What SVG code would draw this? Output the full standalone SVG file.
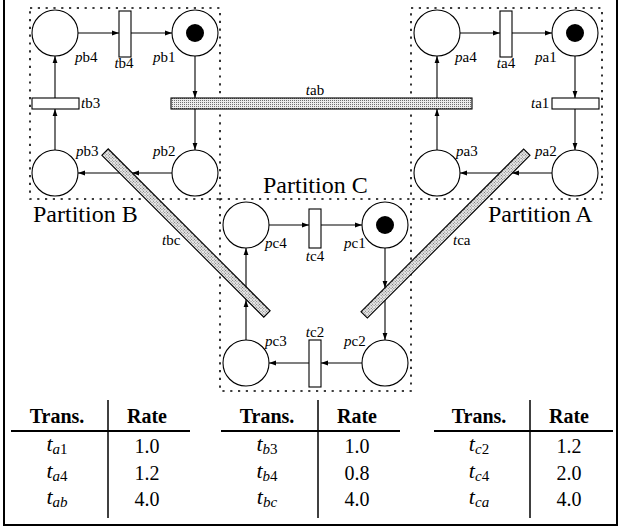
<svg xmlns="http://www.w3.org/2000/svg" width="620" height="531" viewBox="0 0 620 531" font-family="Liberation Serif, Times New Roman, serif">
<style>
.pl{fill:#fff;stroke:#000;stroke-width:1.1}
.tk{fill:#000}
.tr{fill:#fff;stroke:#000;stroke-width:1.1}
.hb{fill:url(#dots);stroke:#000;stroke-width:1.1}
.ar{fill:none;stroke:#000;stroke-width:1.1;marker-end:url(#ah)}
.part{fill:none;stroke:#000;stroke-width:1.6;stroke-dasharray:2.2 5.6}
.lb{font-size:15px}
.pt{font-size:24px}
.th{font-size:20px;font-weight:bold;text-anchor:middle}
.td{font-size:20px;text-anchor:middle}
.it{font-style:italic}
.rule{stroke:#000;stroke-width:1.8}
.vr{stroke:#000;stroke-width:1.5}
</style>
<defs>
<pattern id="dots" width="2" height="2" patternUnits="userSpaceOnUse">
<rect width="2" height="2" fill="#ececec"/>
<rect width="1" height="1" fill="#6e6e6e"/>
</pattern>
<marker id="ah" markerWidth="7" markerHeight="6" refX="7" refY="3" orient="auto" markerUnits="userSpaceOnUse">
<path d="M0,0.6 L7,3 L0,5.4 z" fill="#000"/>
</marker>
</defs>
<rect width="620" height="531" fill="#fff"/>
<g id="frame">
<line x1="4" y1="0" x2="4" y2="526" stroke="#000" stroke-width="2"/>
<line x1="617" y1="0" x2="617" y2="526" stroke="#000" stroke-width="2"/>
<line x1="3" y1="525" x2="618" y2="525" stroke="#000" stroke-width="2"/>
</g>
<g id="partitions">
<rect class="part" x="30" y="8" width="190" height="191"/>
<rect class="part" x="411" y="8" width="191" height="191"/>
<rect class="part" x="220" y="199" width="191" height="192"/>
<text class="pt" x="33" y="222">Partition B</text>
<text class="pt" x="263" y="193">Partition C</text>
<text class="pt" x="488" y="222">Partition A</text>
</g>
<g id="connectors">
<line class="ar" x1="78" y1="33" x2="119" y2="33"/>
<line class="ar" x1="131" y1="33" x2="172" y2="33"/>
<line class="ar" x1="195" y1="56" x2="195" y2="98"/>
<line class="ar" x1="195" y1="109" x2="195" y2="150"/>
<line class="ar" x1="172" y1="173" x2="132" y2="173"/>
<line class="ar" x1="132" y1="173" x2="78" y2="173"/>
<line class="ar" x1="55" y1="150" x2="55" y2="109"/>
<line class="ar" x1="55" y1="98" x2="55" y2="56"/>
<line class="ar" x1="460" y1="33" x2="500" y2="33"/>
<line class="ar" x1="512" y1="33" x2="552" y2="33"/>
<line class="ar" x1="575" y1="56" x2="575" y2="98"/>
<line class="ar" x1="575" y1="109" x2="575" y2="150"/>
<line class="ar" x1="552" y1="173" x2="512" y2="173"/>
<line class="ar" x1="512" y1="173" x2="460" y2="173"/>
<line class="ar" x1="437" y1="150" x2="437" y2="109"/>
<line class="ar" x1="437" y1="98" x2="437" y2="56"/>
<line class="ar" x1="269" y1="225" x2="309" y2="225"/>
<line class="ar" x1="321" y1="225" x2="362" y2="225"/>
<line class="ar" x1="385" y1="248" x2="385" y2="288"/>
<line class="ar" x1="385" y1="288" x2="385" y2="340"/>
<line class="ar" x1="362" y1="363" x2="321" y2="363"/>
<line class="ar" x1="309" y1="363" x2="269" y2="363"/>
<line class="ar" x1="246" y1="340" x2="246" y2="300"/>
<line class="ar" x1="246" y1="300" x2="246" y2="248"/>
</g>
<g id="pb4"><circle class="pl" cx="55" cy="33" r="23"/><text class="lb" x="75" y="62"><tspan class="it">p</tspan>b4</text></g>
<g id="pb1"><circle class="pl" cx="195" cy="33" r="23"/><circle class="tk" cx="195" cy="33" r="9"/><text class="lb" x="153" y="62"><tspan class="it">p</tspan>b1</text></g>
<g id="pb3"><circle class="pl" cx="55" cy="173" r="23"/><text class="lb" x="76" y="156"><tspan class="it">p</tspan>b3</text></g>
<g id="pb2"><circle class="pl" cx="195" cy="173" r="23"/><text class="lb" x="153" y="156"><tspan class="it">p</tspan>b2</text></g>
<g id="tb4"><rect class="tr" x="119" y="11" width="12" height="46"/><text class="lb" x="124" y="68" text-anchor="middle"><tspan class="it">t</tspan>b4</text></g>
<g id="tb3"><rect class="tr" x="32" y="98" width="47" height="11"/><text class="lb" x="81" y="108"><tspan class="it">t</tspan>b3</text></g>
<g id="pa4"><circle class="pl" cx="437" cy="33" r="23"/><text class="lb" x="455" y="62"><tspan class="it">p</tspan>a4</text></g>
<g id="pa1"><circle class="pl" cx="575" cy="33" r="23"/><circle class="tk" cx="575" cy="33" r="9"/><text class="lb" x="535" y="62"><tspan class="it">p</tspan>a1</text></g>
<g id="pa3"><circle class="pl" cx="437" cy="173" r="23"/><text class="lb" x="456" y="156"><tspan class="it">p</tspan>a3</text></g>
<g id="pa2"><circle class="pl" cx="575" cy="173" r="23"/><text class="lb" x="535" y="156"><tspan class="it">p</tspan>a2</text></g>
<g id="ta4"><rect class="tr" x="500" y="11" width="12" height="46"/><text class="lb" x="506" y="68" text-anchor="middle"><tspan class="it">t</tspan>a4</text></g>
<g id="ta1"><rect class="tr" x="552" y="98" width="47" height="11"/><text class="lb" x="531" y="108"><tspan class="it">t</tspan>a1</text></g>
<g id="pc4"><circle class="pl" cx="246" cy="225" r="23"/><text class="lb" x="265" y="248"><tspan class="it">p</tspan>c4</text></g>
<g id="pc1"><circle class="pl" cx="385" cy="225" r="23"/><circle class="tk" cx="385" cy="225" r="9"/><text class="lb" x="344" y="248"><tspan class="it">p</tspan>c1</text></g>
<g id="pc3"><circle class="pl" cx="246" cy="363" r="23"/><text class="lb" x="265" y="346"><tspan class="it">p</tspan>c3</text></g>
<g id="pc2"><circle class="pl" cx="385" cy="363" r="23"/><text class="lb" x="344" y="346"><tspan class="it">p</tspan>c2</text></g>
<g id="tc4"><rect class="tr" x="309" y="209" width="12" height="39"/><text class="lb" x="315" y="261" text-anchor="middle"><tspan class="it">t</tspan>c4</text></g>
<g id="tc2"><rect class="tr" x="309" y="340" width="12" height="47"/><text class="lb" x="315" y="337" text-anchor="middle"><tspan class="it">t</tspan>c2</text></g>
<g id="tab"><rect class="hb" x="171" y="98" width="301" height="11"/><text class="lb" x="315" y="95" text-anchor="middle"><tspan class="it">t</tspan>ab</text></g>
<g id="tbc"><rect class="hb" x="-114.5" y="-4.5" width="229" height="9" transform="translate(186,233) rotate(45)"/><text class="lb" x="162" y="245"><tspan class="it">t</tspan>bc</text></g>
<g id="tca"><rect class="hb" x="-115" y="-4.5" width="230" height="9" transform="translate(445.5,233.5) rotate(-45)"/><text class="lb" x="453" y="245"><tspan class="it">t</tspan>ca</text></g>
<g id="table-a">
<text class="th" x="57" y="423">Trans.</text>
<text class="th" x="147" y="423">Rate</text>
<line class="rule" x1="11" y1="431" x2="190" y2="431"/>
<line class="vr" x1="108" y1="400" x2="108" y2="518"/>
<text class="td" x="57" y="451"><tspan class="it" font-size="22">t</tspan><tspan class="it" font-size="15" dy="3">a</tspan><tspan font-size="15">1</tspan></text>
<text class="td" x="57" y="478"><tspan class="it" font-size="22">t</tspan><tspan class="it" font-size="15" dy="3">a</tspan><tspan font-size="15">4</tspan></text>
<text class="td" x="57" y="504"><tspan class="it" font-size="22">t</tspan><tspan class="it" font-size="15" dy="3">ab</tspan></text>
<text class="td" x="147" y="453">1.0</text>
<text class="td" x="147" y="480">1.2</text>
<text class="td" x="147" y="506">4.0</text>
</g>
<g id="table-b">
<text class="th" x="267" y="423">Trans.</text>
<text class="th" x="357" y="423">Rate</text>
<line class="rule" x1="221" y1="431" x2="400" y2="431"/>
<line class="vr" x1="318" y1="400" x2="318" y2="518"/>
<text class="td" x="267" y="451"><tspan class="it" font-size="22">t</tspan><tspan class="it" font-size="15" dy="3">b</tspan><tspan font-size="15">3</tspan></text>
<text class="td" x="267" y="478"><tspan class="it" font-size="22">t</tspan><tspan class="it" font-size="15" dy="3">b</tspan><tspan font-size="15">4</tspan></text>
<text class="td" x="267" y="504"><tspan class="it" font-size="22">t</tspan><tspan class="it" font-size="15" dy="3">bc</tspan></text>
<text class="td" x="357" y="453">1.0</text>
<text class="td" x="357" y="480">0.8</text>
<text class="td" x="357" y="506">4.0</text>
</g>
<g id="table-c">
<text class="th" x="479" y="423">Trans.</text>
<text class="th" x="569" y="423">Rate</text>
<line class="rule" x1="434" y1="431" x2="613" y2="431"/>
<line class="vr" x1="530" y1="400" x2="530" y2="518"/>
<text class="td" x="479" y="451"><tspan class="it" font-size="22">t</tspan><tspan class="it" font-size="15" dy="3">c</tspan><tspan font-size="15">2</tspan></text>
<text class="td" x="479" y="478"><tspan class="it" font-size="22">t</tspan><tspan class="it" font-size="15" dy="3">c</tspan><tspan font-size="15">4</tspan></text>
<text class="td" x="479" y="504"><tspan class="it" font-size="22">t</tspan><tspan class="it" font-size="15" dy="3">ca</tspan></text>
<text class="td" x="569" y="453">1.2</text>
<text class="td" x="569" y="480">2.0</text>
<text class="td" x="569" y="506">4.0</text>
</g>
</svg>
